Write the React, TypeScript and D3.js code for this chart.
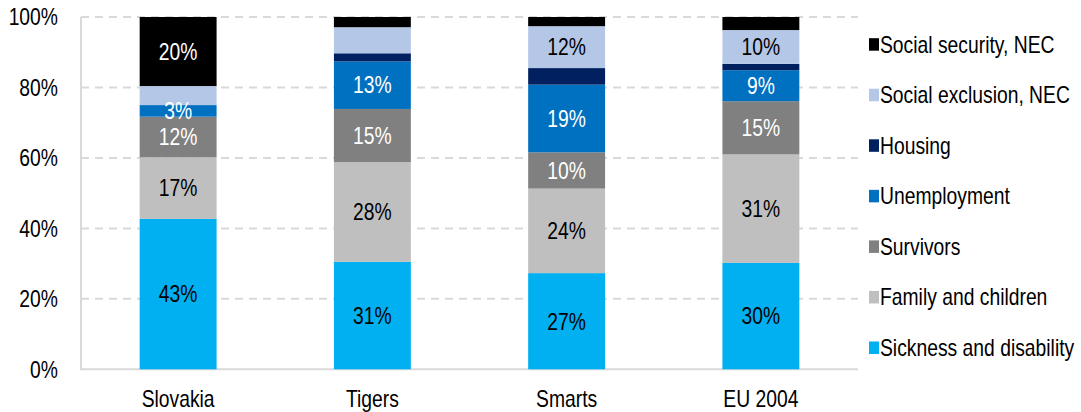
import React from "react";
import * as d3 from "d3";

const categories = ["Slovakia", "Tigers", "Smarts", "EU 2004"];
const seriesNames = [
  "Sickness and disability",
  "Family and children",
  "Survivors",
  "Unemployment",
  "Housing",
  "Social exclusion, NEC",
  "Social security, NEC",
];
const seriesColors = ["#00B0F0", "#BFBFBF", "#808080", "#0070C0", "#002060", "#B4C7E7", "#000000"];
const labelColors = ["#000", "#000", "#fff", "#fff", "#fff", "#000", "#fff"];

const sickness = [42.7, 30.5, 27.3, 30.2];
const family = [17.5, 28.3, 24.0, 30.8];
const survivors = [11.5, 15.1, 10.3, 15.1];
const unemployment = [3.3, 13.5, 19.2, 8.8];
const housing = [0, 2.3, 4.7, 1.8];
const socialExclusion = [5.4, 7.4, 11.9, 9.6];
const socialSecurity = [19.6, 2.9, 2.6, 3.7];
const seriesValues = [sickness, family, survivors, unemployment, housing, socialExclusion, socialSecurity];

// which segments display a label ("" = none)
const sicknessLabels = ["43%", "31%", "27%", "30%"];
const familyLabels = ["17%", "28%", "24%", "31%"];
const survivorsLabels = ["12%", "15%", "10%", "15%"];
const unemploymentLabels = ["3%", "13%", "19%", "9%"];
const housingLabels = ["", "", "", ""];
const socialExclusionLabels = ["", "", "12%", "10%"];
const socialSecurityLabels = ["20%", "", "", ""];
const seriesLabels = [
  sicknessLabels,
  familyLabels,
  survivorsLabels,
  unemploymentLabels,
  housingLabels,
  socialExclusionLabels,
  socialSecurityLabels,
];

const yTicks = [0, 20, 40, 60, 80, 100];

const W = 1081;
const H = 412;
const M = { left: 81, right: 858, top: 17, bottom: 369.3 };
const FONT = "Liberation Sans, Arial, sans-serif";
const FS = 23;
const SX = 0.84;

function T({ x, y, anchor = "middle", fill = "#000", children }: any) {
  return (
    <g transform={`translate(${x},${y}) scale(${SX},1)`}>
      <text x={0} y={0} textAnchor={anchor} fill={fill} fontFamily={FONT} fontSize={FS}>
        {children}
      </text>
    </g>
  );
}

export default function App() {
  const x = d3.scaleBand<string>().domain(categories).range([M.left, M.right]).paddingInner(0.604).paddingOuter(0.302);
  const y = d3.scaleLinear().domain([0, 100]).range([M.bottom, M.top]);

  const rows = categories.map((c, i) => {
    const r: any = { cat: c };
    seriesNames.forEach((s, k) => (r[s] = seriesValues[k][i]));
    return r;
  });
  const stacked = d3.stack<any>().keys(seriesNames)(rows);

  return (
    <div style={{ position: "absolute", left: 0, top: 0 }}>
      <svg width={W} height={H} style={{ display: "block" }}>
        <rect width={W} height={H} fill="#fff" />
        {yTicks.map((t) =>
          t === 0 ? null : (
            <line
              key={t}
              x1={M.left}
              x2={M.right}
              y1={y(t)}
              y2={y(t)}
              stroke="#D9D9D9"
              strokeWidth={2}
              strokeDasharray="8,6"
            />
          )
        )}
        <line x1={M.left} x2={M.left} y1={M.top} y2={M.bottom} stroke="#D9D9D9" strokeWidth={2} />
        <line x1={M.left - 1} x2={M.right} y1={M.bottom} y2={M.bottom} stroke="#D9D9D9" strokeWidth={2} />
        {yTicks.map((t) => (
          <T key={t} x={58} y={y(t) + 8.3} anchor="end">
            {`${t}%`}
          </T>
        ))}
        {stacked.map((layer, k) => (
          <g key={seriesNames[k]}>
            {layer.map((d, i) => (
              <rect
                key={i}
                x={x(categories[i])!}
                width={x.bandwidth()}
                y={y(d[1])}
                height={Math.max(0, y(d[0]) - y(d[1]))}
                fill={seriesColors[k]}
              />
            ))}
          </g>
        ))}
        {stacked.map((layer, k) =>
          layer.map((d, i) =>
            seriesLabels[k][i] ? (
              <T
                key={`${k}-${i}`}
                x={x(categories[i])! + x.bandwidth() / 2}
                y={y((d[0] + d[1]) / 2) + 8.3}
                fill={labelColors[k]}
              >
                {seriesLabels[k][i]}
              </T>
            ) : null
          )
        )}
        {categories.map((c) => (
          <T key={c} x={x(c)! + x.bandwidth() / 2} y={407}>
            {c}
          </T>
        ))}
        {seriesNames
          .slice()
          .reverse()
          .map((s, j) => {
            const k = seriesNames.length - 1 - j;
            const base = 52.7 + j * 50.55;
            return (
              <g key={s}>
                <rect x={869} y={base - 14.5} width={10} height={12.5} fill={seriesColors[k]} />
                <T x={880} y={base} anchor="start">
                  {s}
                </T>
              </g>
            );
          })}
      </svg>
    </div>
  );
}
